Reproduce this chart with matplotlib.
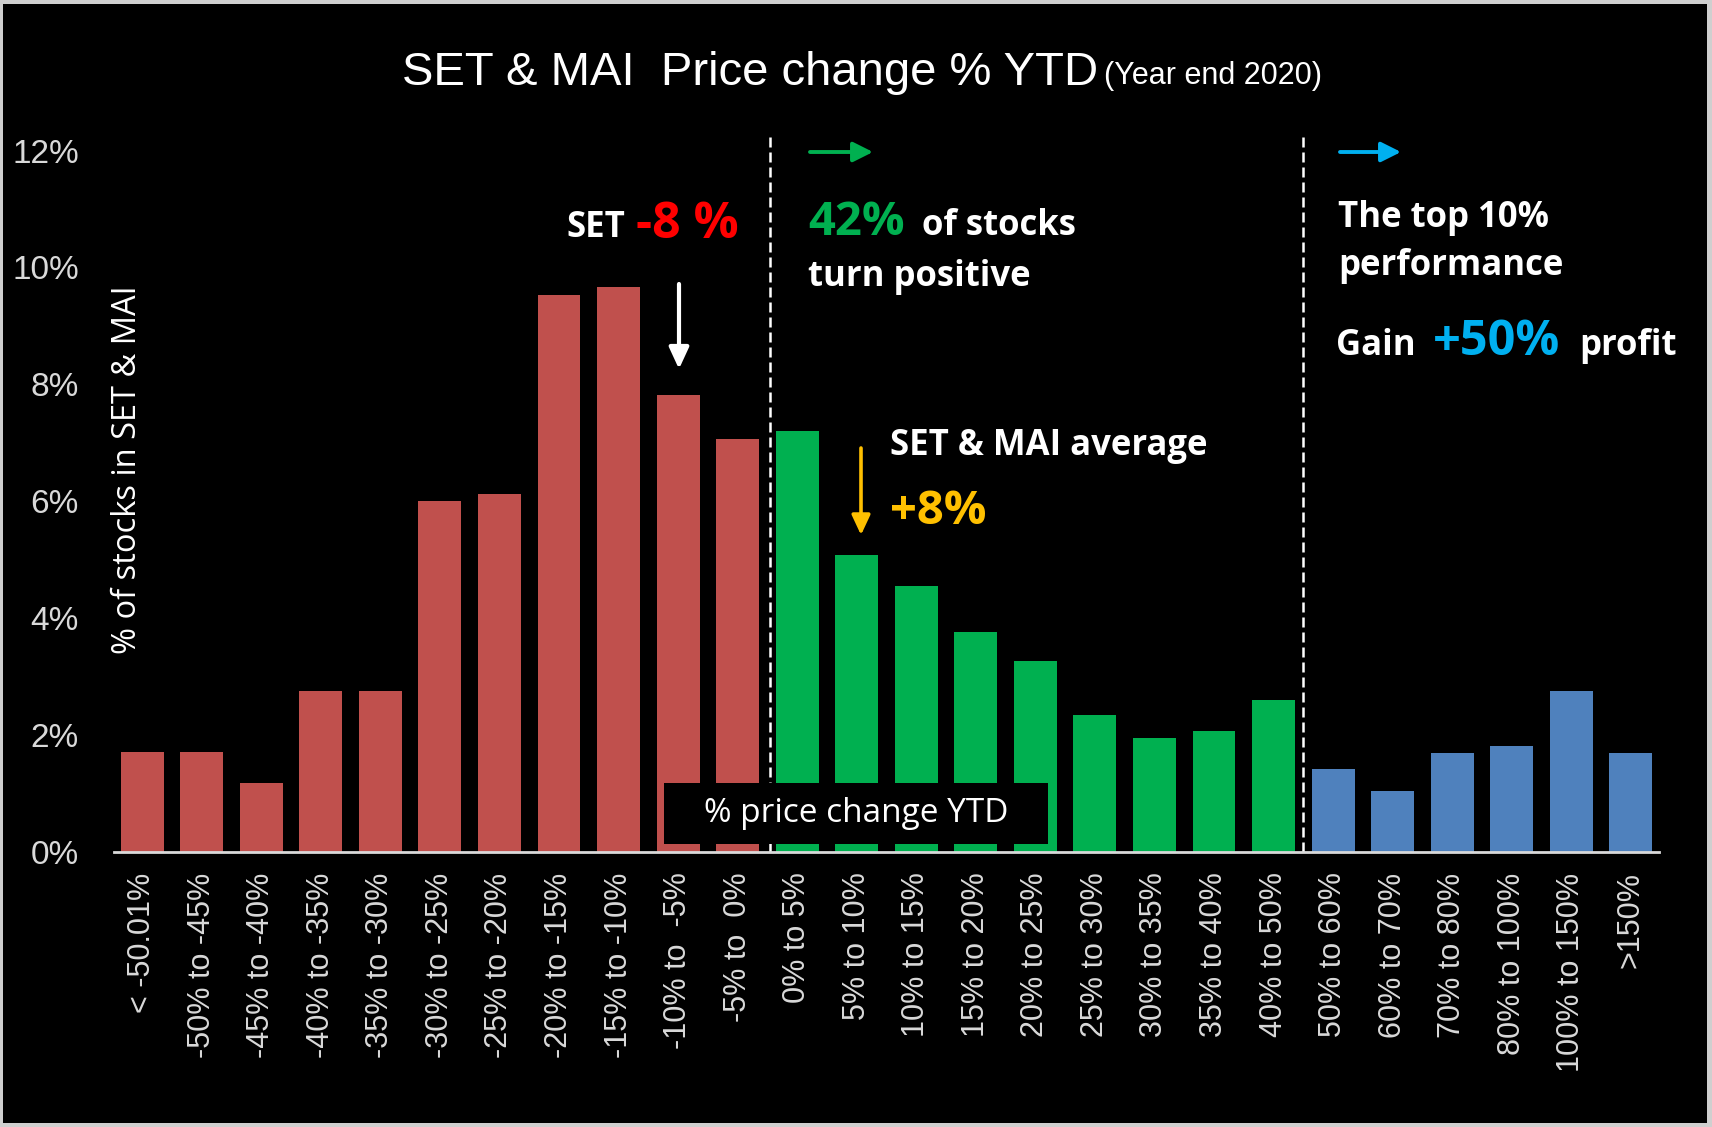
import matplotlib.pyplot as plt
from matplotlib.patches import Rectangle

# share of stocks per price-change bucket (% of all SET & MAI stocks)
categories = ['< -50.01%', '-50% to -45%', '-45% to -40%', '-40% to -35%', '-35% to -30%',
              '-30% to -25%', '-25% to -20%', '-20% to -15%', '-15% to -10%', '-10% to  -5%',
              '-5% to  0%', '0% to 5%', '5% to 10%', '10% to 15%', '15% to 20%', '20% to 25%',
              '25% to 30%', '30% to 35%', '35% to 40%', '40% to 50%', '50% to 60%',
              '60% to 70%', '70% to 80%', '80% to 100%', '100% to 150%', '>150%']
share = [1.70, 1.70, 1.17, 2.75, 2.75, 6.00, 6.13, 9.53, 9.66, 7.81, 7.07,
         7.20, 5.07, 4.54, 3.76, 3.27, 2.34, 1.94, 2.07, 2.60,
         1.42, 1.03, 1.68, 1.81, 2.75, 1.68]
group = ['neg'] * 11 + ['pos'] * 9 + ['top'] * 6
yticks = [0, 2, 4, 6, 8, 10, 12]

colors = {'neg': '#C0504D', 'pos': '#00B050', 'top': '#4F81BD'}

plt.rcParams['font.family'] = ['Liberation Sans', 'DejaVu Sans']
ANN = ['Open Sans', 'DejaVu Sans']

W, H = 1712, 1127
def fx(px):
    return px / W
def fy(py):
    return 1 - py / H

fig = plt.figure(figsize=(W / 100, H / 100), dpi=100, facecolor='#CFCFCF')
fig.patches.append(Rectangle((fx(3), fy(1123)), fx(1707) - fx(3), fy(4) - fy(1123),
                             transform=fig.transFigure, facecolor='black',
                             edgecolor='none', zorder=-1))

ax = fig.add_axes([fx(113.5), fy(851.6), fx(1659.5) - fx(113.5), fy(130) - fy(851.6)])
ax.set_facecolor('none')
xs = list(range(len(categories)))
ax.bar(xs, share, width=0.72, color=[colors[g] for g in group], zorder=2)
ax.set_xlim(-0.48, len(categories) - 0.52)
ax.set_ylim(0, 12.354)

ax.set_yticks(yticks)
ax.set_yticklabels([f'{v}%' for v in yticks])
ax.set_xticks(xs)
ax.set_xticklabels(categories, rotation=90)
ax.tick_params(axis='y', length=0, pad=25, labelsize=24, labelcolor='#D9D9D9')
ax.tick_params(axis='x', length=0, pad=15, labelsize=22, labelcolor='#D9D9D9')
for s in ['top', 'right', 'left']:
    ax.spines[s].set_visible(False)
ax.spines['bottom'].set_color('#D9D9D9')
ax.spines['bottom'].set_linewidth(2)
ax.spines['bottom'].set_zorder(3)

# group separators
ax.vlines([10.55, 19.5], 0, 12.3, colors='white', linestyles=(0, (4, 2)), lw=1.8, zorder=3)

# title
t1 = fig.text(fx(402), fy(85), 'SET & MAI  Price change % YTD', color='white',
              fontsize=34, ha='left', va='baseline')
fig.canvas.draw()
bb = t1.get_window_extent()
fig.text(bb.x1 / W + fx(6), fy(84), '(Year end 2020)', color='white',
         fontsize=22, ha='left', va='baseline')

fig.text(fx(127), fy(470), '% of stocks in SET & MAI', rotation=90, color='white',
         fontsize=23.5, family=ANN, ha='center', va='center')

# x axis caption box
ax.add_patch(Rectangle((fx(664), fy(844)), fx(1048) - fx(664), fy(783) - fy(844),
                       transform=fig.transFigure, facecolor='black', edgecolor='none',
                       zorder=4, clip_on=False))
ax.text(fx(856), fy(814), '% price change YTD', transform=fig.transFigure, color='white',
        fontsize=24, family=ANN, ha='center', va='center', zorder=5)


def arrow(x0, y0, x1, y1, color, lw, hl, hw):
    ax.annotate('', xy=(fx(x1), fy(y1)), xytext=(fx(x0), fy(y0)),
                xycoords='figure fraction', textcoords='figure fraction',
                arrowprops=dict(arrowstyle=f'-|>,head_length={hl},head_width={hw}',
                                color=color, lw=lw, mutation_scale=20,
                                shrinkA=0, shrinkB=0), zorder=6)


def txt(x, y, s, color='white', size=25):
    fig.text(fx(x), fy(y), s, color=color, fontsize=size, fontweight='bold',
             family=ANN, ha='left', va='baseline')


# SET -8 %
txt(566, 237, 'SET', size=25)
txt(636, 238, '-8 %', color='#FF0000', size=36)
arrow(679, 284, 679, 369, 'white', 3, 0.65, 0.3)

# 42% of stocks turn positive
arrow(810, 152, 873, 152, '#00B050', 2.8, 0.6, 0.3)
txt(808, 235, '42%', color='#00B050', size=34)
txt(922, 235, 'of stocks')
txt(808, 286, 'turn positive')

# average
arrow(861, 448, 861, 535, '#FFC000', 2.6, 0.6, 0.28)
txt(890, 455, 'SET & MAI average')
txt(890, 524, '+8%', color='#FFC000', size=34)

# top 10%
arrow(1340, 152, 1401, 152, '#00B0F0', 2.8, 0.6, 0.3)
txt(1338, 227, 'The top 10%')
txt(1338, 275, 'performance')
txt(1336, 355, 'Gain')
txt(1433, 355, '+50%', color='#00B0F0', size=35)
txt(1579, 355, 'profit')

fig.savefig('out.png', dpi=100, facecolor=fig.get_facecolor())
